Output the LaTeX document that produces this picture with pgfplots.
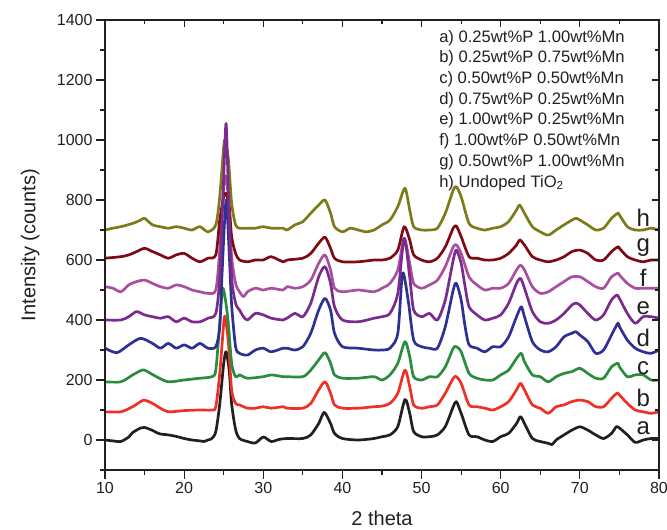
\documentclass[border=0pt]{standalone}
\usepackage{fontspec}
\setmainfont{Liberation Sans}
\usepackage{pgfplots}
\pgfplotsset{compat=1.18}

\definecolor{ca}{HTML}{231F20}
\definecolor{cb}{HTML}{EE3124}
\definecolor{cc}{HTML}{2A8C3C}
\definecolor{cd}{HTML}{2E3192}
\definecolor{ce}{HTML}{7B2A8E}
\definecolor{cf}{HTML}{A8509F}
\definecolor{cg}{HTML}{7F0A14}
\definecolor{ch}{HTML}{7D7A1C}
\definecolor{txt}{HTML}{231F20}

\pgfplotsset{
    xrdframe/.style={
        scale only axis,
        width=554pt, height=450pt,
        xmin=10, xmax=80, ymin=-100, ymax=1400,
        xtick={10,20,...,80}, ytick={0,200,...,1400},
        minor xtick={15,25,...,75}, minor ytick={-100,100,...,1300},
        axis line style={line width=1.1pt, txt},
        every tick/.style={line width=1.1pt, txt},
    },
    every axis plot/.append style={line width=2.7pt, line join=round, mark=none, smooth, tension=0.45},
}

\begin{document}
\begin{tikzpicture}
\begin{axis}[
    xrdframe,
    name=ax,
    tick align=outside,
    xtick pos=left, ytick pos=left,
    major tick length=9pt, minor tick length=5pt,
    tick label style={font=\fontsize{16}{19}\selectfont, text=txt},
    /pgf/number format/assume math mode=true,
    /pgf/number format/1000 sep={},
    xlabel={2 theta}, ylabel={Intensity (counts)},
    xlabel style={at={(axis description cs:0.5,-0.108)}, anchor=center, font=\fontsize{20}{24}\selectfont, text=txt},
    ylabel style={at={(axis description cs:-0.135,0.5)}, anchor=center, font=\fontsize{20}{24}\selectfont, text=txt},
]
% a) 0.25wt%P 1.00wt%Mn
\addplot[ca] coordinates {
(10,0) (11,-3) (12,-5) (13,10) (13.5,25) (14.5,40) (15,42) (16,32) (16.5,25) (17,20)
(18,17) (19,12) (20,5) (21,0) (22,-3) (22.5,-5) (23,0) (23.5,5) (24,28) (24.5,120)
(25,255) (25.3,294) (25.7,230) (26,120) (26.5,35) (27,5) (28,-5) (29,-10) (30,10) (31,-5)
(32,2) (33,5) (35,5) (36,17) (37,55) (37.7,92) (38.5,55) (39,22) (40,5) (42,0)
(44,5) (45,11) (46,17) (47,45) (47.9,135) (48.5,89) (49,28) (50,11) (51,11) (52,17)
(53,45) (54,111) (54.4,128) (55,89) (56,17) (57,11) (58,0) (59,-5) (60,11) (61,22)
(62,55) (62.5,78) (63,55) (64,5) (65,-5) (66,-11) (66.5,-15) (67,0) (68,17) (69,33)
(70,44) (71,33) (72,17) (73,5) (74,22) (74.6,44) (75,40) (76,17) (77,-8) (78,0)
(79,5) (80,5)
};
% b) 0.25wt%P 0.75wt%Mn
\addplot[cb] coordinates {
(10,94) (12,94) (13.5,111) (14.5,128) (15,133) (16,122) (17,106) (18,94) (20,98) (22,100)
(23.5,100) (24,111) (24.5,222) (25,389) (25.2,409) (25.6,322) (26,167) (26.5,122) (27,117) (28,106)
(29,106) (30,111) (31,106) (32.5,111) (33,106) (35,106) (36,122) (37,167) (37.8,194) (38.5,156)
(39,117) (40,106) (42,106) (44,111) (45,113) (46,122) (47,156) (47.9,233) (48.5,178) (49,117)
(50,106) (51,111) (52,117) (53,156) (54,206) (54.4,211) (55,189) (56,117) (57,111) (58,106)
(59,100) (60,111) (61,128) (62,167) (62.5,189) (63,167) (64,117) (65,106) (66,89) (67,111)
(68,117) (69,128) (70,133) (71,128) (72,111) (73,111) (74,139) (74.7,156) (75,150) (76,122)
(77,100) (78,94) (79,89) (80,94)
};
% c) 0.50wt%P 0.50wt%Mn
\addplot[cc] coordinates {
(10,194) (12,194) (13.5,217) (14.5,231) (15,233) (16.5,211) (18,194) (20,200) (22,206) (23.5,211)
(24,233) (24.5,389) (24.9,506) (25.5,411) (26,256) (26.5,211) (27,217) (28,206) (30,211) (31,217)
(32.5,211) (33,211) (35,211) (36,233) (37,267) (37.8,291) (38.5,256) (39,217) (40,206) (42,206)
(44,211) (45,200) (46,217) (47,256) (47.9,328) (48.5,278) (49,211) (50,200) (51,211) (52,211)
(53,244) (54,306) (54.4,311) (55,294) (56,222) (57,206) (58,200) (59,200) (60,217) (61,233)
(62,272) (62.6,289) (63,261) (64,217) (65,211) (66,194) (67,211) (68,222) (69,228) (70,239)
(71,222) (72,206) (73,206) (74,244) (74.8,256) (75,244) (76,211) (77,217) (78,217) (79,200)
(80,200)
};
% d) 0.75wt%P 0.25wt%Mn
\addplot[cd] coordinates {
(10,306) (11.5,291) (13,317) (14.5,339) (16,322) (17,306) (18,322) (19,306) (20,317) (21,306)
(22,322) (23,306) (24,311) (24.5,378) (24.8,560) (25.3,800) (25.7,620) (26,450) (26.5,311) (27,289)
(28,283) (29,300) (30,306) (31,294) (32.5,306) (33,306) (34,300) (35,311) (36,356) (37,433)
(37.8,472) (38.5,433) (39,356) (40,311) (42,306) (44,300) (45,300) (46,306) (47,356) (47.6,556)
(48.3,467) (49,333) (50,311) (51,306) (52,306) (53,378) (54,500) (54.4,522) (55,467) (55.5,378)
(56,317) (57,306) (58,294) (59,311) (60,311) (61,344) (62,411) (62.6,444) (63,411) (64,328)
(65,300) (66,294) (67,311) (68,344) (69,356) (69.5,361) (70,350) (71,328) (72,289) (73,300)
(74,350) (74.8,389) (75,378) (76,333) (77,306) (78,294) (79,289) (80,300)
};
% f) 1.00wt%P 0.50wt%Mn
\addplot[cf] coordinates {
(10,511) (11,506) (12,494) (13,517) (14,528) (15,533) (16,522) (17,511) (18,506) (19,517)
(20,511) (21,500) (22,494) (23,489) (24,500) (24.5,633) (25,844) (25.3,878) (25.7,767) (26,611)
(26.5,522) (27,494) (27.5,478) (28,494) (29,506) (30,500) (31,506) (32.5,500) (33,511) (34,506)
(35,511) (36,533) (37,589) (37.8,617) (38.5,567) (39,506) (40,494) (42,500) (44,494) (45,506)
(46,522) (47,567) (47.8,672) (48.5,589) (49,522) (50,506) (51,517) (52,533) (53,578) (54,644)
(54.4,650) (55,622) (56,544) (57,517) (58,500) (59,506) (60,506) (61,522) (62,567) (62.5,583)
(63,567) (64,511) (65,489) (66,494) (67,511) (68,528) (69,544) (70,544) (71,528) (72,511)
(73,506) (74,544) (74.8,556) (75,550) (76,522) (77,506) (78,506) (79,506) (80,506)
};
% g) 0.50wt%P 1.00wt%Mn
\addplot[cg] coordinates {
(10,606) (12,611) (13,617) (14,628) (15,639) (16,628) (17,617) (18,606) (19,617) (20,622)
(21,606) (22,594) (23,606) (24,617) (24.5,733) (25,811) (25.3,822) (25.7,778) (26,678) (26.5,622)
(27,600) (28,594) (29,600) (30,600) (31,611) (32.5,594) (33,600) (35,606) (36,622) (37,656)
(37.8,676) (38.5,639) (39,606) (40,594) (42,594) (44,600) (45,600) (46,606) (47,633) (47.8,711)
(48.5,667) (49,617) (50,600) (51,594) (52,606) (53,644) (54,706) (54.4,713) (55,678) (56,611)
(57,606) (58,600) (59,600) (60,606) (61,622) (62,650) (62.4,667) (63,650) (64,611) (65,600)
(66,594) (67,600) (68,611) (69,628) (70,633) (71,622) (72,600) (73,600) (74,628) (74.8,644)
(75,639) (76,611) (77,600) (78,594) (79,600) (80,600)
};
% h) Undoped TiO2
\addplot[ch] coordinates {
(10,700) (11,706) (12,711) (13.5,722) (14.5,733) (15,739) (16,717) (17,711) (18,706) (19,711)
(20,706) (21,700) (22,711) (23,694) (24,717) (24.5,811) (25,978) (25.2,1000) (25.6,933) (26,789)
(26.5,717) (27,706) (28,706) (29,706) (30,711) (31,706) (32.5,706) (33,700) (34,717) (35,728)
(36,756) (37,783) (37.8,800) (38.5,756) (39,711) (40,694) (41,706) (42,700) (43,694) (44,700)
(45,717) (46,733) (47,778) (47.9,839) (48.5,767) (49,711) (50,700) (51,700) (52,706) (53,756)
(54,833) (54.4,844) (55,811) (56,722) (57,706) (58,700) (59,706) (60,711) (61,728) (62,767)
(62.4,783) (63,756) (64,711) (65,694) (66,683) (67,700) (68,717) (69,733) (69.5,739) (70,733)
(71,717) (72,700) (73,706) (74,739) (74.8,756) (75,750) (76,711) (77,700) (78,700) (79,706)
(80,700)
};
% e) 1.00wt%P 0.25wt%Mn
\addplot[ce] coordinates {
(10,400) (12,400) (13,411) (14,428) (15,417) (16,411) (17,406) (18,411) (19,394) (20,406)
(21,394) (22,394) (23,406) (24,422) (24.5,544) (25,878) (25.3,1055) (25.6,822) (26,544) (26.5,456)
(27,433) (27.5,411) (28,400) (29,422) (30,417) (31,406) (32.5,400) (33,406) (34,422) (35,411)
(36,456) (37,544) (37.8,578) (38.5,522) (39,444) (40,400) (42,394) (44,406) (45,411) (46,422)
(47,489) (47.8,672) (48.5,544) (49,433) (50,411) (51,422) (52,400) (53,467) (54,600) (54.4,633)
(55,589) (55.5,511) (56,444) (57,417) (58,400) (59,406) (60,417) (61,456) (62,522) (62.5,539)
(63,506) (64,428) (65,394) (66,389) (67,400) (68,422) (69,450) (69.5,456) (70,450) (71,422)
(72,400) (73,417) (74,467) (74.7,483) (75,472) (76,422) (77,389) (78,411) (79,411) (80,406)
};
% series letters at the right
\node[font=\fontsize{24}{28}\selectfont, text=txt] at (axis cs:78,40) {a};
\node[font=\fontsize{24}{28}\selectfont, text=txt] at (axis cs:78,140) {b};
\node[font=\fontsize{24}{28}\selectfont, text=txt] at (axis cs:78,240) {c};
\node[font=\fontsize{24}{28}\selectfont, text=txt] at (axis cs:78,340) {d};
\node[font=\fontsize{24}{28}\selectfont, text=txt] at (axis cs:78,440) {e};
\node[font=\fontsize{24}{28}\selectfont, text=txt] at (axis cs:78,540) {f};
\node[font=\fontsize{24}{28}\selectfont, text=txt] at (axis cs:78,640) {g};
\node[font=\fontsize{24}{28}\selectfont, text=txt] at (axis cs:78,740) {h};
% sample list
\node[anchor=north west, align=left, inner sep=0pt, text=txt,
      font=\fontsize{16.6}{20.7}\selectfont] at (rel axis cs:0.603,0.978) {%
a) 0.25wt\%P 1.00wt\%Mn\\
b) 0.25wt\%P 0.75wt\%Mn\\
c) 0.50wt\%P 0.50wt\%Mn\\
d) 0.75wt\%P 0.25wt\%Mn\\
e) 1.00wt\%P 0.25wt\%Mn\\
f) 1.00wt\%P 0.50wt\%Mn\\
g) 0.50wt\%P 1.00wt\%Mn\\
h) Undoped TiO\textsubscript{2}};
\coordinate (sw) at (rel axis cs:0,0);
\coordinate (ne) at (rel axis cs:1,1);
\end{axis}
% inward ticks on top and right
\begin{axis}[
    xrdframe,
    tick align=inside,
    xtick pos=right, ytick pos=right,
    major tick length=7pt, minor tick length=4pt,
    xticklabels={}, yticklabels={},
]
\end{axis}
\pgfresetboundingbox
\path ([shift={(-105pt,-60pt)}]sw) rectangle ([shift={(8pt,20pt)}]ne);
\end{tikzpicture}
\end{document}
